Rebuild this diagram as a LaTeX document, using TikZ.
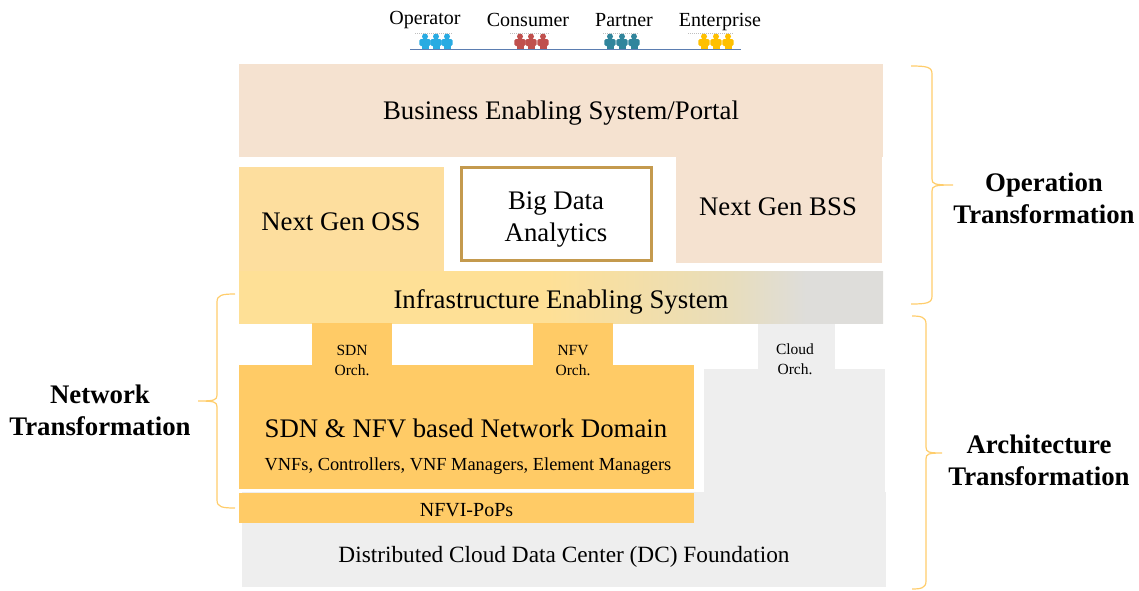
\documentclass[tikz,border=0pt]{standalone}
\usepackage{fontspec}
\setmainfont{Liberation Serif}
\definecolor{portalc}{HTML}{F5E2D0}
\definecolor{ossc}{HTML}{FDDE9E}
\definecolor{domainc}{HTML}{FFCB66}
\definecolor{cloudc}{HTML}{EEEEEE}
\definecolor{bigc}{HTML}{C49A4E}
\definecolor{bracec}{HTML}{FFCD6B}
\definecolor{lanec}{HTML}{5B7DB1}
\definecolor{infral}{HTML}{FEE096}
\definecolor{infram}{HTML}{E8DDBB}
\definecolor{infrar}{HTML}{DEDDDA}
\pgfdeclarehorizontalshading{infrashade}{100bp}{color(0bp)=(infral); color(25bp)=(infral); color(49bp)=(infral); color(63bp)=(infram); color(69bp)=(infrar); color(100bp)=(infrar)}
\tikzset{
  block/.style={inner sep=0pt, outer sep=0pt},
  lbl/.style={inner sep=0pt, align=center, font=\fontsize{26.8}{32}\selectfont},
  orch/.style={inner sep=0pt, align=center, font=\fontsize{15.5}{19.5}\selectfont},
  usr/.style={inner sep=0pt, font=\fontsize{20}{24}\selectfont},
  trans/.style={inner sep=0pt, align=center, font=\fontsize{26.8}{32}\selectfont\bfseries},
  bline/.style={draw=bracec, line width=1.2pt},
  person/.pic={
    \fill (0,-12.5) circle (3);
    \fill[rounded corners=1.5] (-5.6,-10) rectangle (5.6,-3);
    \fill (-3.5,-5) rectangle (3.5,0);
  }
}
\newcommand{\tfbrace}[6]{% foot x, spine x, tip x, top y, tip y, bottom y
  \pgfmathsetmacro\bdir{(#3>#2)?1:-1}
  \draw[bline] (#1,#4) .. controls ({#2-\bdir*5},#4) and (#2,{#4+1}) .. (#2,{#4+8})
    -- (#2,{#5-6}) .. controls (#2,{#5-1}) and ({#2+\bdir*2},#5) .. (#3,#5)
    .. controls ({#2+\bdir*2},#5) and (#2,{#5+1}) .. (#2,{#5+6})
    -- (#2,{#6-8}) .. controls (#2,{#6-1}) and ({#2-\bdir*5},#6) .. (#1,#6);
}
\begin{document}
\begin{tikzpicture}[x=1pt,y=-1pt]
\useasboundingbox (0,0) rectangle (1139,590);

% users on top
\node[usr] (operator) at (425,20) {Operator};
\node[usr] (consumer) at (528,20) {Consumer};
\node[usr] (partner) at (624,20) {Partner};
\node[usr] (enterprise) at (720,22) {Enterprise};
\foreach \xa/\xb/\xc/\ca/\cb/\pc in {425/436/447/415/453/29ABE2, 520/531/543/510/550/C0504D, 610/622/634/603/638/31859C, 704/716/728/688/733/FFC000} {
  \definecolor{tmpc}{HTML}{\pc}
  \foreach \xp in {\xa,\xb,\xc}
    \pic[fill=tmpc] at (\xp,49) {person};
  \draw[black!25, densely dotted, line width=1pt] (\ca,33) -- (\cb,33);
}
\coordinate (laneL) at (410,49.5);
\coordinate (laneR) at (741,49.5);
\draw[lanec, line width=1.5pt] (laneL) -- (laneR);

% grey foundation first
\node[block, fill=cloudc, minimum width=181, minimum height=123] (cloudup) at (794.5,430.5) {};
\node[block, fill=cloudc, minimum width=644, minimum height=95] (dc) at (564,539.5) {};
\node[block, fill=cloudc, minimum width=77, minimum height=46] (cloudtab) at (796.5,346) {};
\node[lbl, font=\fontsize{23.3}{28}\selectfont] at (564,557) {Distributed Cloud Data Center (DC) Foundation};

% operation part
\node[block, fill=portalc, minimum width=644, minimum height=93] (portal) at (561,110.5) {};
\node[lbl] at (561,113.5) {Business Enabling System/Portal};
\node[block, fill=portalc, minimum width=206, minimum height=107] (bss) at (779,209.5) {};
\node[lbl] at (778,207) {Next Gen BSS};
\node[block, fill=ossc, minimum width=205, minimum height=104] (oss) at (341.5,219) {};
\node[lbl] at (341,222) {Next Gen OSS};
\node[block, draw=bigc, line width=3pt, fill=white, minimum width=190, minimum height=93] (bigdata) at (556.5,214) {};
\node[lbl] at (556,219.5) {Big Data\\Analytics};
\node[block, shading=infrashade, minimum width=644, minimum height=52] (infra) at (561,297) {};
\node[lbl] at (561,301.5) {Infrastructure Enabling System};

% network part
\node[block, fill=domainc, minimum width=80, minimum height=43] (sdntab) at (352,344.5) {};
\node[block, fill=domainc, minimum width=80, minimum height=43] (nfvtab) at (573,344.5) {};
\node[block, fill=domainc, minimum width=455, minimum height=124] (domain) at (466.5,427) {};
\node[block, fill=domainc, minimum width=455, minimum height=30] (nfvi) at (466.5,508) {};
\node[orch] at (352,360.5) {SDN\\Orch.};
\node[orch] at (573,360.5) {NFV\\Orch.};
\node[orch] at (795,359) {Cloud\\Orch.};
\node[lbl] at (466,428) {SDN \& NFV based Network Domain};
\node[lbl, font=\fontsize{18.4}{24}\selectfont] at (468,466) {VNFs, Controllers, VNF Managers, Element Managers};
\node[usr] at (466.5,510) {NFVI-PoPs};

% braces
\tfbrace{911}{932}{953}{66}{185}{304}
\tfbrace{912}{926}{942}{316}{453}{589}
\tfbrace{235}{217}{198}{294}{401}{508}
\node[trans] (optrans) at (1044,198) {Operation\\Transformation};
\node[trans] (archtrans) at (1039,460) {Architecture\\Transformation};
\node[trans] (nettrans) at (100,410) {Network\\Transformation};

\end{tikzpicture}
\end{document}
